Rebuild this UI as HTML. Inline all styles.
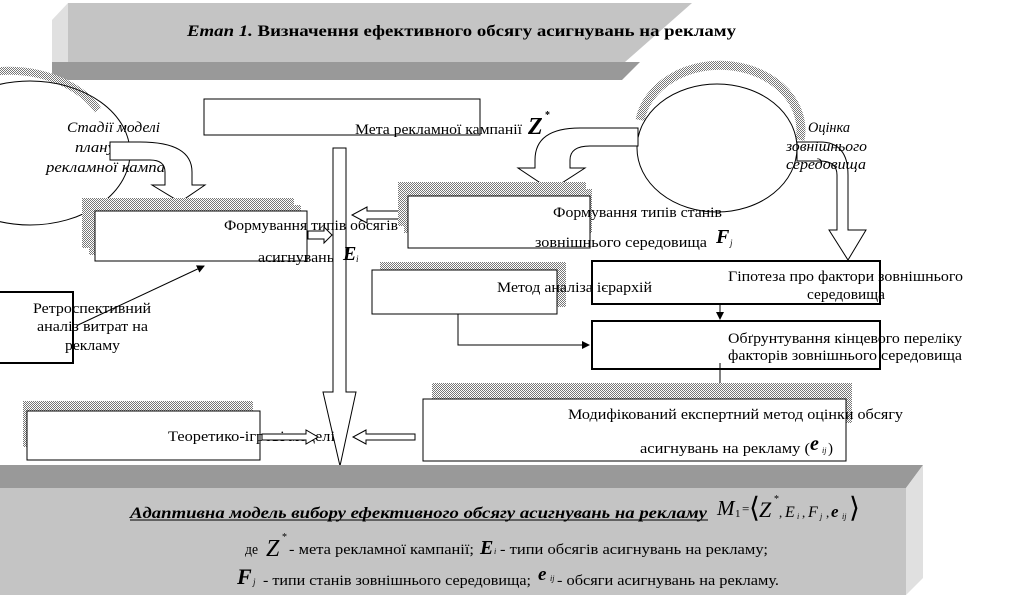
<!DOCTYPE html>
<html><head><meta charset="utf-8"><style>
html,body{margin:0;padding:0;background:#fff;}
svg{display:block;}
text{font-family:"Liberation Serif",serif;fill:#000;}
</style></head><body>
<svg width="1018" height="595" viewBox="0 0 1018 595" xmlns="http://www.w3.org/2000/svg">
<defs>
<pattern id="h" width="2" height="2" patternUnits="userSpaceOnUse">
<rect width="2" height="2" fill="#fff"/><rect width="1" height="1" fill="#777"/><rect x="1" y="1" width="1" height="1" fill="#777"/>
</pattern>
<marker id="a" markerWidth="8" markerHeight="8" refX="7" refY="4" orient="auto" markerUnits="userSpaceOnUse"><path d="M0,0 L8,4 L0,8z" fill="#000"/></marker>
</defs>

<!-- top banner -->
<polygon points="52,20 68,3 68,62 52,80" fill="#e0e0e0"/>
<polygon points="68,3 692,3 625,62 68,62" fill="#c4c4c4"/>
<polygon points="52,62 640,62 622,80 52,80" fill="#999"/>
<text x="187" y="36" font-size="16" font-weight="bold" textLength="549" lengthAdjust="spacingAndGlyphs"><tspan font-style="italic">Етап 1.</tspan> Визначення ефективного обсягу асигнувань на рекламу</text>

<!-- left ellipse -->
<path d="M-40,80 A100,72 0 0 1 98,110" fill="none" stroke="url(#h)" stroke-width="8"/>
<ellipse cx="30" cy="153" rx="100" ry="72" fill="none" stroke="#000" stroke-width="1"/>
<g font-size="15" font-style="italic">
<text x="67" y="132" textLength="93" lengthAdjust="spacingAndGlyphs">Стадії моделі</text>
<text x="75" y="152" textLength="40" lengthAdjust="spacingAndGlyphs">плану</text>
<text x="46" y="172" textLength="119" lengthAdjust="spacingAndGlyphs">рекламної кампа</text>
</g>
<!-- curved arrow left -->
<path d="M110,142 L140,142 Q192,142 192,172 L192,185 L205,185 L180,202 L152,185 L165,185 L165,172 Q165,160 150,160 L110,160 Z" fill="#fff" stroke="#000"/>

<!-- Мета box -->
<rect x="204" y="99" width="276" height="36" fill="#fff" stroke="#000"/>
<text x="355" y="134" font-size="15" textLength="167" lengthAdjust="spacingAndGlyphs">Мета рекламної кампанії</text>
<text x="528" y="134" font-size="24" font-style="italic" font-weight="bold">Z</text>
<text x="545" y="118" font-size="10" font-weight="bold">*</text>

<!-- vertical big arrow -->
<path d="M333,148 L346,148 L346,392 L356,392 L340,466 L323,392 L333,392 Z" fill="#fff" stroke="#000"/>

<!-- Формування типів обсягів -->
<rect x="82" y="198" width="212" height="50" fill="url(#h)"/>
<rect x="89" y="205" width="212" height="50" fill="url(#h)"/>
<rect x="95" y="211" width="212" height="50" fill="#fff" stroke="#000"/>
<text x="224" y="230" font-size="15" textLength="174" lengthAdjust="spacingAndGlyphs">Формування типів обсягів</text>
<text x="258" y="262" font-size="15" textLength="76" lengthAdjust="spacingAndGlyphs">асигнувань</text>
<text x="343" y="260" font-size="20" font-style="italic" font-weight="bold">E</text>
<text x="356" y="262" font-size="9" font-style="italic">i</text>
<path d="M308,231 L324,231 L324,227 L332,235 L324,243 L324,239 L308,239 Z" fill="#fff" stroke="#000"/>
<path d="M400,211 L367,211 L367,207 L352,215 L367,223 L367,219 L400,219 Z" fill="#fff" stroke="#000"/>

<!-- right ellipse -->
<path d="M640,120 A80,64 0 0 1 800,140" fill="none" stroke="url(#h)" stroke-width="9"/>
<ellipse cx="717" cy="148" rx="80" ry="64" fill="#fff" stroke="#000"/>
<!-- curved arrow from right ellipse to Fj -->
<path d="M638,128 L580,128 Q535,128 535,160 L535,168 L518,168 L551,190 L585,168 L570,168 L570,160 Q570,146 590,146 L638,146 Z" fill="#fff" stroke="#000"/>
<!-- down arrow right -->
<path d="M797,142 L820,142 Q848,142 848,175 L848,230 L866,230 L848,260 L829,230 L837,230 L837,175 Q837,161 820,161 L797,161 Z" fill="#fff" stroke="#000"/>
<g font-size="15" font-style="italic">
<text x="808" y="132" textLength="42" lengthAdjust="spacingAndGlyphs">Оцінка</text>
<text x="786" y="151" textLength="81" lengthAdjust="spacingAndGlyphs">зовнішнього</text>
<text x="786" y="169" textLength="80" lengthAdjust="spacingAndGlyphs">середовища</text>
</g>

<!-- Формування типів станів -->
<rect x="398" y="182" width="188" height="44" fill="url(#h)"/>
<rect x="404" y="189" width="188" height="44" fill="url(#h)"/>
<rect x="408" y="196" width="182" height="52" fill="#fff" stroke="#000"/>
<text x="553" y="217" font-size="15" textLength="169" lengthAdjust="spacingAndGlyphs">Формування типів станів</text>
<text x="535" y="247" font-size="15" textLength="172" lengthAdjust="spacingAndGlyphs">зовнішнього середовища</text>
<text x="716" y="243" font-size="20" font-style="italic" font-weight="bold">F</text>
<text x="730" y="246" font-size="9" font-style="italic">j</text>

<!-- Метод аналізу -->
<rect x="380" y="262" width="186" height="45" fill="url(#h)"/>
<rect x="372" y="270" width="185" height="44" fill="#fff" stroke="#000"/>
<text x="497" y="292" font-size="15" textLength="155" lengthAdjust="spacingAndGlyphs">Метод аналіза ієрархій</text>
<path d="M458,314 L458,345 L589,345" fill="none" stroke="#000" marker-end="url(#a)"/>

<!-- Гіпотеза -->
<rect x="592" y="261" width="288" height="43" fill="none" stroke="#000" stroke-width="2"/>
<text x="728" y="281" font-size="15" textLength="235" lengthAdjust="spacingAndGlyphs">Гіпотеза про фактори зовнішнього</text>
<text x="807" y="299" font-size="15" textLength="78" lengthAdjust="spacingAndGlyphs">середовища</text>
<path d="M720,305 L720,319" stroke="#000" marker-end="url(#a)"/>
<!-- Обґрунтування -->
<rect x="592" y="321" width="288" height="48" fill="none" stroke="#000" stroke-width="2"/>
<text x="728" y="343" font-size="15" textLength="234" lengthAdjust="spacingAndGlyphs">Обґрунтування кінцевого переліку</text>
<text x="728" y="360" font-size="15" textLength="234" lengthAdjust="spacingAndGlyphs">факторів зовнішнього середовища</text>
<path d="M720,363 L720,397" stroke="#000" marker-end="url(#a)"/>

<!-- Ретроспективний -->
<rect x="-2" y="292" width="75" height="71" fill="#fff" stroke="#000" stroke-width="2"/>
<g font-size="15">
<text x="33" y="313" textLength="118" lengthAdjust="spacingAndGlyphs">Ретроспективний</text>
<text x="37" y="331" textLength="111" lengthAdjust="spacingAndGlyphs">аналіз витрат на</text>
<text x="65" y="350" textLength="55" lengthAdjust="spacingAndGlyphs">рекламу</text>
</g>
<path d="M78,325 L204,266" stroke="#000" marker-end="url(#a)"/>

<!-- Теоретико-ігрові -->
<rect x="23" y="401" width="230" height="46" fill="url(#h)"/>
<rect x="27" y="411" width="233" height="49" fill="#fff" stroke="#000"/>
<text x="168" y="441" font-size="15" textLength="167" lengthAdjust="spacingAndGlyphs">Теоретико-ігрові моделі</text>
<path d="M262,434 L306,434 L306,430 L318,437 L306,444 L306,440 L262,440 Z" fill="#fff" stroke="#000"/>
<path d="M415,434 L366,434 L366,430 L353,437 L366,444 L366,440 L415,440 Z" fill="#fff" stroke="#000"/>

<!-- Модифікований -->
<rect x="432" y="383" width="420" height="40" fill="url(#h)"/>
<rect x="423" y="399" width="423" height="62" fill="#fff" stroke="#000"/>
<text x="568" y="419" font-size="15" textLength="335" lengthAdjust="spacingAndGlyphs">Модифікований експертний метод оцінки обсягу</text>
<text x="640" y="453" font-size="15" textLength="170" lengthAdjust="spacingAndGlyphs">асигнувань на рекламу (</text>
<text x="810" y="450" font-size="20" font-style="italic" font-weight="bold">e</text>
<text x="822" y="453" font-size="8" font-style="italic">ij</text>
<text x="828" y="453" font-size="15">)</text>

<!-- bottom banner -->
<polygon points="0,465 923,465 906,488 0,488" fill="#999"/>
<polygon points="0,488 906,488 906,595 0,595" fill="#c4c4c4"/>
<polygon points="906,488 923,465 923,578 906,595" fill="#e0e0e0"/>
<text x="130" y="518" font-size="16" font-weight="bold" font-style="italic" textLength="577" lengthAdjust="spacingAndGlyphs">Адаптивна модель вибору ефективного обсягу асигнувань на рекламу</text>
<line x1="130" y1="520" x2="708" y2="520" stroke="#000"/>
<text x="717" y="515" font-size="21" font-style="italic">M</text><text x="735" y="517" font-size="11">1</text>
<text x="742" y="513" font-size="13">=</text>
<text x="749" y="517" font-size="28">⟨</text>
<text x="759" y="517" font-size="22" font-style="italic">Z</text><text x="774" y="502" font-size="10">*</text>
<text x="779" y="517" font-size="13">,</text>
<text x="785" y="517" font-size="16" font-style="italic">E</text><text x="797" y="519" font-size="8" font-style="italic">i</text>
<text x="802" y="517" font-size="13">,</text>
<text x="808" y="517" font-size="16" font-style="italic">F</text><text x="820" y="519" font-size="8" font-style="italic">j</text>
<text x="826" y="517" font-size="13">,</text>
<text x="831" y="517" font-size="17" font-style="italic" font-weight="bold">e</text><text x="842" y="519" font-size="8" font-style="italic">ij</text>
<text x="849" y="517" font-size="28">⟩</text>

<text x="245" y="554" font-size="15" textLength="13" lengthAdjust="spacingAndGlyphs">де</text>
<text x="266" y="556" font-size="24" font-style="italic">Z</text><text x="282" y="540" font-size="10">*</text>
<text x="289" y="554" font-size="15" textLength="185" lengthAdjust="spacingAndGlyphs">- мета рекламної кампанії;</text>
<text x="480" y="554" font-size="20" font-style="italic" font-weight="bold">E</text><text x="494" y="554" font-size="8" font-style="italic">i</text>
<text x="500" y="554" font-size="15" textLength="268" lengthAdjust="spacingAndGlyphs">- типи обсягів асигнувань на рекламу;</text>
<text x="237" y="584" font-size="22" font-style="italic" font-weight="bold">F</text><text x="253" y="585" font-size="9" font-style="italic">j</text>
<text x="263" y="585" font-size="15" textLength="268" lengthAdjust="spacingAndGlyphs">- типи станів зовнішнього середовища;</text>
<text x="538" y="580" font-size="19" font-style="italic" font-weight="bold">e</text><text x="550" y="581" font-size="8" font-style="italic">ij</text>
<text x="557" y="585" font-size="15" textLength="222" lengthAdjust="spacingAndGlyphs">- обсяги асигнувань на рекламу.</text>
</svg>
</body></html>
